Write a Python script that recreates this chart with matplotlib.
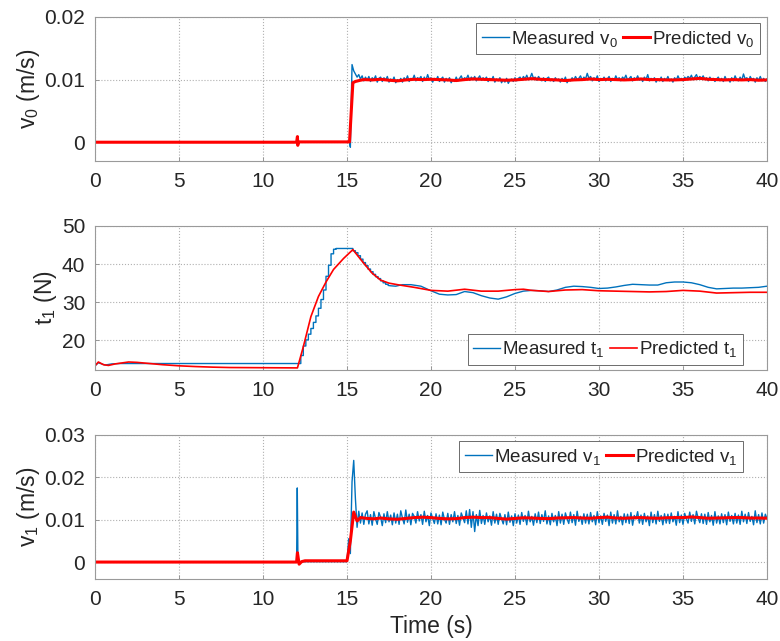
import numpy as np
import matplotlib
matplotlib.use('Agg')
import matplotlib.pyplot as plt

plt.rcParams['font.family'] = ['Liberation Sans', 'DejaVu Sans']
plt.rcParams['mathtext.fontset'] = 'custom'
plt.rcParams['mathtext.rm'] = 'Liberation Sans'
plt.rcParams['mathtext.it'] = 'Liberation Sans:italic'

BLUE = '#0072BD'
RED = '#FF0000'
TXT = '#262626'

# ---- v0 (values in mm/s) ----
v0_meas_pre_t = [0.0, 15.15, 15.2]
v0_meas_pre = [0.0, 0.0, -0.8]
v0_meas_start = 15.3   # then one sample every 0.1 s
v0_meas = [
    12.4, 11.4, 10.9, 10.4, 10.8, 10.1, 10.6, 9.8, 10.4, 9.9,
    10.5, 9.7, 10.3, 10.0, 10.6, 9.6, 10.2, 10.4, 9.7, 10.3,
    9.9, 10.5, 9.6, 10.1, 9.8, 10.4, 9.5, 10.0, 9.7, 10.2,
    9.6, 10.3, 9.9, 10.6, 9.7, 10.2, 10.0, 10.7, 9.8, 10.3,
    10.1, 10.5, 9.7, 10.4, 9.9, 10.8, 10.0, 10.3, 9.6, 10.2,
    9.9, 10.5, 9.7, 10.1, 10.4, 9.6, 10.2, 9.8, 10.3, 9.5,
    10.0, 9.7, 10.4, 9.8, 10.2, 10.6, 9.9, 10.3, 10.1, 10.7,
    9.9, 10.4, 10.0, 10.5, 9.8, 10.2, 10.6, 9.9, 10.3, 10.0,
    10.4, 9.7, 10.2, 9.9, 10.5, 9.6, 10.1, 9.8, 10.3, 9.5,
    10.0, 9.6, 10.2, 9.4, 9.9, 10.1, 9.7, 10.3, 9.8, 10.2,
    10.4, 9.9, 10.5, 10.1, 10.7, 10.0, 10.3, 11.0, 10.2, 10.4,
    9.9, 10.5, 10.1, 9.8, 10.3, 9.7, 10.2, 10.4, 9.8, 10.1,
    9.7, 10.3, 9.9, 10.1, 9.6, 10.2, 9.8, 10.4, 9.5, 10.0,
    9.8, 10.3, 9.9, 10.5, 10.0, 10.2, 10.6, 9.9, 10.4, 10.1,
    11.0, 10.2, 10.5, 9.8, 10.3, 10.0, 10.6, 9.7, 10.2, 9.9,
    10.4, 9.8, 10.1, 10.5, 9.7, 10.2, 9.9, 10.6, 10.0, 10.3,
    9.8, 10.4, 10.1, 10.7, 9.9, 10.2, 10.5, 9.8, 10.3, 10.0,
    10.6, 9.9, 10.2, 9.7, 10.4, 10.0, 10.8, 9.8, 10.2, 9.9,
    10.3, 9.6, 10.1, 9.8, 10.4, 9.7, 10.2, 9.9, 10.5, 9.8,
    10.1, 9.6, 10.3, 9.9, 10.6, 10.0, 10.2, 9.8, 10.4, 10.1,
    10.5, 10.2, 10.7, 10.0, 10.4, 10.8, 10.1, 10.5, 10.2, 10.6,
    10.0, 10.3, 9.8, 10.4, 9.9, 10.2, 9.7, 10.1, 10.4, 9.8,
    10.2, 9.7, 10.5, 9.9, 10.1, 9.6, 10.3, 9.8, 10.6, 10.0,
    9.8, 10.4, 9.9, 10.9, 10.1, 10.3, 9.7, 10.5, 10.0, 10.2,
    9.6, 10.3, 9.9, 10.5, 9.8, 10.2, 9.7, 10.1,
]
v0_pred_t = [0.0, 12.0, 12.05, 12.07, 12.1, 15.15, 15.35, 15.5, 15.8, 16.0,
             16.5, 17.0, 17.5, 18.0, 18.5, 19.0, 19.5, 20.0, 20.5, 21.0,
             21.5, 22.0, 22.5, 23.0, 23.5, 24.0, 24.5, 25.0, 25.5, 26.0,
             26.5, 27.0, 27.5, 28.0, 28.5, 29.0, 29.5, 30.0, 30.5, 31.0,
             31.5, 32.0, 32.5, 33.0, 33.5, 34.0, 34.5, 35.0, 35.5, 36.0,
             36.5, 37.0, 37.5, 38.0, 38.5, 39.0, 39.5, 40.0]
v0_pred = [0.0, 0.0, 0.9, -0.5, 0.05, 0.05, 9.5, 9.7, 9.9, 10.0,
           9.95, 10.05, 9.9, 9.8, 9.95, 10.05, 10.0, 10.05, 10.0, 9.95,
           9.85, 10.0, 10.1, 10.05, 10.0, 9.95, 9.9, 9.95, 10.05, 10.15,
           10.05, 10.0, 9.95, 9.85, 9.95, 10.0, 10.1, 10.0, 10.05, 10.0,
           9.95, 10.0, 10.1, 10.0, 10.0, 9.95, 9.95, 10.0, 10.1, 10.2,
           10.05, 10.0, 9.95, 10.0, 9.95, 10.0, 9.9, 9.95]

# ---- t1 (N) ----
t1_meas_pre_t = [0.0, 0.2, 0.6, 1.0, 1.5, 12.25]
t1_meas_pre = [13.3, 14.1, 13.5, 13.8, 13.9, 13.9]
t1_stair_t = [12.25, 12.4, 12.55, 12.7, 12.85, 13.0, 13.15, 13.3, 13.45, 13.6,
              13.75, 13.9, 14.05, 14.2, 14.35, 15.35, 15.5, 15.65, 15.8, 15.95,
              16.1, 16.25, 16.4, 16.55, 16.7, 16.85, 17.0, 17.15, 17.3, 17.45]
t1_stair = [16.0, 18.5, 20.1, 21.6, 23.1, 24.7, 26.4, 28.4, 30.7, 33.2,
            36.8, 39.7, 42.7, 43.9, 44.1, 43.5, 43.0, 42.2, 41.3, 40.4,
            39.6, 38.7, 38.0, 37.3, 36.7, 36.2, 35.6, 35.1, 34.7, 34.4]
t1_meas_post_t = [17.6, 17.9, 18.3, 18.8, 19.4, 20.0, 20.5, 21.0, 21.5, 22.0,
                  22.5, 23.0, 23.5, 24.0, 24.5, 25.0, 25.5, 26.0, 26.5, 27.0,
                  27.5, 28.0, 28.5, 29.0, 29.5, 30.0, 30.5, 31.0, 31.5, 32.0,
                  32.5, 33.0, 33.5, 34.0, 34.5, 35.0, 35.5, 36.0, 36.5, 37.0,
                  37.5, 38.0, 38.5, 39.0, 39.5, 40.0]
t1_meas_post = [34.3, 34.2, 34.6, 34.6, 34.2, 33.0, 32.1, 31.9, 32.0, 32.8,
                32.5, 31.7, 31.1, 30.8, 31.4, 32.3, 32.9, 33.1, 33.0, 32.8,
                33.2, 33.9, 34.2, 34.1, 33.9, 33.6, 33.7, 34.0, 34.4, 34.7,
                34.6, 34.5, 34.5, 35.1, 35.3, 35.3, 35.1, 34.6, 33.9, 33.5,
                33.6, 33.7, 33.7, 33.8, 33.9, 34.2]
t1_pred_t = [0.0, 0.2, 0.5, 0.8, 1.2, 2.0, 2.5, 3.0, 4.0, 5.0,
             6.0, 7.0, 8.0, 10.0, 12.05, 12.4, 12.85, 13.3, 13.75, 14.2,
             14.8, 15.35, 16.0, 16.5, 17.0, 17.5, 18.0, 19.0, 20.0, 21.0,
             22.0, 23.0, 24.0, 25.0, 25.5, 26.0, 27.0, 28.0, 29.0, 30.0,
             31.0, 32.0, 33.0, 34.0, 35.0, 36.0, 37.0, 38.0, 39.0, 40.0]
t1_pred = [13.3, 14.3, 13.6, 13.4, 13.8, 14.3, 14.2, 14.0, 13.6, 13.3,
           13.1, 12.95, 12.85, 12.8, 12.75, 18.3, 26.2, 31.5, 35.3, 38.6,
           41.5, 43.8, 40.2, 37.6, 35.8, 35.0, 34.6, 33.9, 33.1, 32.9,
           33.4, 32.9, 32.9, 33.3, 33.4, 33.1, 32.8, 33.2, 33.3, 33.0,
           32.9, 32.8, 32.7, 32.8, 33.1, 32.9, 32.4, 32.5, 32.6, 32.6]

# ---- v1 (values in mm/s) ----
v1_meas_pre_t = [0.0, 12.0, 12.04, 12.08, 12.15, 12.3, 15.0, 15.1, 15.2]
v1_meas_pre = [0.0, 0.0, 17.5, 0.4, -0.3, 0.1, 0.1, 5.5, 2.0]
v1_meas_start = 15.3   # then one sample every 0.1 s
v1_meas = [
    19.0, 24.0, 15.0, 8.2, 12.0, 9.2, 11.6, 8.9, 11.3, 12.1,
    9.0, 11.2, 8.7, 11.9, 10.2, 8.9, 11.7, 10.6, 8.6, 11.4,
    9.3, 11.9, 9.5, 11.1, 8.8, 11.6, 9.2, 11.3, 8.9, 12.1,
    10.4, 9.0, 12.3, 9.4, 11.3, 8.8, 11.5, 10.8, 9.2, 11.9,
    9.7, 11.2, 8.9, 12.0, 9.5, 11.0, 8.6, 11.6, 10.3, 9.1,
    11.4, 9.0, 11.1, 8.8, 11.8, 10.1, 9.2, 11.5, 8.9, 11.2,
    9.5, 11.9, 9.1, 11.0, 8.7, 11.6, 10.5, 9.3, 12.1, 9.0,
    12.4, 8.2, 11.9, 7.2, 11.2, 8.6, 12.2, 9.1, 11.0, 8.9,
    11.6, 9.5, 10.9, 8.7, 11.9, 9.2, 11.3, 8.9, 11.5, 10.2,
    9.0, 11.2, 8.8, 11.8, 9.4, 10.9, 8.6, 11.4, 9.2, 11.1,
    8.9, 11.7, 9.6, 11.0, 8.8, 12.0, 9.5, 10.8, 8.7, 11.4,
    9.3, 11.8, 9.1, 11.2, 9.6, 12.1, 9.0, 10.9, 8.8, 11.5,
    9.5, 11.0, 8.6, 11.9, 9.2, 11.3, 8.9, 11.6, 10.2, 9.1,
    11.8, 9.3, 11.2, 8.7, 12.0, 9.6, 10.8, 8.9, 11.4, 9.2,
    11.3, 9.0, 11.7, 9.5, 11.0, 8.8, 11.9, 9.3, 10.9, 8.9,
    11.5, 9.6, 11.1, 8.6, 11.8, 9.2, 11.2, 9.0, 12.1, 9.5,
    10.8, 8.8, 11.4, 9.3, 11.3, 9.1, 11.7, 8.7, 11.0, 10.2,
    11.9, 9.2, 11.1, 8.9, 11.5, 9.5, 10.9, 8.6, 11.8, 9.3,
    11.2, 9.0, 12.0, 9.6, 11.0, 8.8, 11.4, 9.2, 11.3, 9.1,
    11.6, 9.5, 10.8, 8.7, 11.9, 9.3, 11.1, 8.9, 11.5, 10.2,
    9.2, 11.8, 9.6, 11.2, 9.0, 12.0, 10.4, 9.3, 11.4, 9.1,
    11.3, 8.9, 11.7, 9.5, 11.0, 8.7, 11.9, 9.2, 10.9, 9.0,
    11.4, 9.3, 11.2, 8.8, 11.8, 9.6, 11.0, 9.0, 11.5, 9.2,
    11.1, 8.9, 12.0, 9.5, 11.3, 9.1, 11.7, 9.6, 10.8, 8.8,
    12.1, 9.3, 11.2, 9.0, 11.6, 9.2, 11.3, 10.3,
]
v1_pred_t = [0.0, 12.0, 12.05, 12.15, 12.3, 12.5, 15.0, 15.2, 15.4, 15.6,
             15.8, 16.2, 16.6, 17.0, 17.5, 18.0, 18.5, 19.0, 19.5, 20.0,
             20.5, 21.0, 21.5, 22.0, 22.5, 23.0, 23.5, 24.0, 24.5, 25.0,
             25.5, 26.0, 26.5, 27.0, 27.5, 28.0, 28.5, 29.0, 29.5, 30.0,
             30.5, 31.0, 31.5, 32.0, 32.5, 33.0, 33.5, 34.0, 34.5, 35.0,
             35.5, 36.0, 36.5, 37.0, 37.5, 38.0, 38.5, 39.0, 39.5, 40.0]
v1_pred = [0.0, 0.0, 2.2, -0.5, 0.1, 0.3, 0.3, 5.0, 11.8, 9.7,
           10.5, 10.3, 10.2, 10.4, 10.2, 10.1, 10.3, 10.5, 10.6, 10.5,
           10.3, 10.2, 10.25, 10.5, 10.6, 10.5, 10.5, 10.3, 10.15, 10.3,
           10.45, 10.4, 10.3, 10.25, 10.4, 10.45, 10.5, 10.4, 10.35, 10.5,
           10.6, 10.4, 10.35, 10.45, 10.5, 10.4, 10.35, 10.45, 10.5, 10.5,
           10.65, 10.5, 10.35, 10.4, 10.45, 10.5, 10.5, 10.4, 10.4, 10.35]

x_ticks = [0, 5, 10, 15, 20, 25, 30, 35, 40]


def sampled(start, vals, pre_t, pre_v):
    t = np.concatenate([pre_t, start + 0.1 * np.arange(len(vals))])
    v = np.concatenate([pre_v, vals]) / 1000.0
    return t, v


def style_axes(ax, ylim, yticks, yticklabels, ylabel):
    ax.set_xlim(0, 40)
    ax.set_ylim(ylim)
    ax.set_xticks(x_ticks)
    ax.set_yticks(yticks)
    ax.set_yticklabels(yticklabels)
    ax.grid(True, linestyle=':', color='#b0b0b0', linewidth=0.8)
    ax.tick_params(direction='in', length=3, width=0.6, colors='#8a8a8a',
                   labelcolor=TXT, labelsize=15)
    ax.tick_params(axis='y', pad=7)
    ax.tick_params(axis='x', pad=8)
    for s in ax.spines.values():
        s.set_color('#9a9a9a')
        s.set_linewidth(0.8)
    ax.set_ylabel(ylabel, fontsize=16.5, color=TXT, labelpad=2)


def make_legend(ax, loc, anchor):
    leg = ax.legend(loc=loc, bbox_to_anchor=anchor, bbox_transform=fig.transFigure,
                    fontsize=13.5, frameon=True, fancybox=False, framealpha=1,
                    edgecolor='#555555', ncol=2, handlelength=1.45,
                    handletextpad=0.1, columnspacing=0.25, borderpad=0.3,
                    borderaxespad=0)
    leg.get_frame().set_linewidth(0.6)
    for t in leg.get_texts():
        t.set_color(TXT)


fig = plt.figure(figsize=(7.8, 6.41), dpi=100)
W, H = 780.0, 641.0
left, width = 95 / W, (767 - 95) / W
ax1 = fig.add_axes([left, 1 - 161 / H, width, 144 / H])
ax2 = fig.add_axes([left, 1 - 370 / H, width, 144 / H])
ax3 = fig.add_axes([left, 1 - 579 / H, width, 144 / H])

# top: v0
t, v = sampled(v0_meas_start, v0_meas, v0_meas_pre_t, v0_meas_pre)
ax1.plot(t, v, color=BLUE, lw=1.0, label='Measured v$_0$')
ax1.plot(v0_pred_t, np.array(v0_pred) / 1000.0, color=RED, lw=2.2, label='Predicted v$_0$')
style_axes(ax1, (-0.003, 0.02), [0, 0.01, 0.02], ['0', '0.01', '0.02'], 'v$_0$ (m/s)')
make_legend(ax1, 'upper right', (760 / W, 1 - 23 / H))

# middle: t1
st_x = np.repeat(t1_stair_t, 2)[1:]
st_y = np.repeat(t1_stair, 2)[:-1]
tm = np.concatenate([t1_meas_pre_t, st_x, t1_meas_post_t])
vm = np.concatenate([t1_meas_pre, st_y, t1_meas_post])
ax2.plot(tm, vm, color=BLUE, lw=1.0, label='Measured t$_1$')
ax2.plot(t1_pred_t, t1_pred, color=RED, lw=1.2, label='Predicted t$_1$')
style_axes(ax2, (12.2, 50), [20, 30, 40, 50], ['20', '30', '40', '50'], 't$_1$ (N)')
make_legend(ax2, 'lower right', (743 / W, 1 - 365 / H))

# bottom: v1
t, v = sampled(v1_meas_start, v1_meas, v1_meas_pre_t, v1_meas_pre)
ax3.plot(t, v, color=BLUE, lw=1.0, label='Measured v$_1$')
ax3.plot(v1_pred_t, np.array(v1_pred) / 1000.0, color=RED, lw=2.2, label='Predicted v$_1$')
style_axes(ax3, (-0.004, 0.03), [0, 0.01, 0.02, 0.03], ['0', '0.01', '0.02', '0.03'], 'v$_1$ (m/s)')
make_legend(ax3, 'upper right', (743 / W, 1 - 441 / H))
ax3.set_xlabel('Time (s)', fontsize=16.5, color=TXT, labelpad=4)

fig.savefig('out.png', dpi=100)
